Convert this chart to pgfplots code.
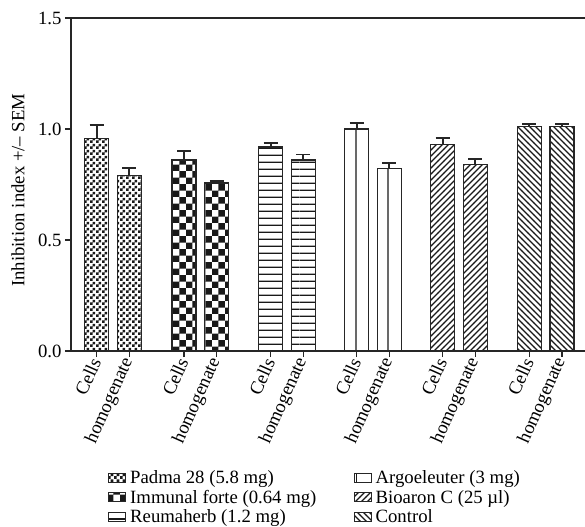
\documentclass[border=0pt]{standalone}
\usepackage{fontspec}
\setmainfont{Liberation Serif}
\usepackage{pgfplots}
\pgfplotsset{compat=1.18}
\usetikzlibrary{patterns}
\newcommand{\bigf}{\fontsize{18.8}{22}\selectfont}

% fine checkerboard
\pgfdeclarepatternformonly{finechk}{\pgfpointorigin}{\pgfqpoint{6bp}{6bp}}{\pgfqpoint{6bp}{6bp}}{
  \pgfpathrectangle{\pgfpointorigin}{\pgfqpoint{3bp}{3bp}}
  \pgfpathrectangle{\pgfqpoint{3bp}{3bp}}{\pgfqpoint{3bp}{3bp}}
  \pgfusepath{fill}}
% coarse checkerboard
\pgfdeclarepatternformonly{coarsechk}{\pgfpointorigin}{\pgfqpoint{13.4bp}{13.4bp}}{\pgfqpoint{13.4bp}{13.4bp}}{
  \pgfpathrectangle{\pgfpointorigin}{\pgfqpoint{6.7bp}{6.7bp}}
  \pgfpathrectangle{\pgfqpoint{6.7bp}{6.7bp}}{\pgfqpoint{6.7bp}{6.7bp}}
  \pgfusepath{fill}}
% horizontal lines
\pgfdeclarepatternformonly{hl}{\pgfpointorigin}{\pgfqpoint{100bp}{7.3bp}}{\pgfqpoint{100bp}{7.3bp}}{
  \pgfpathrectangle{\pgfqpoint{0bp}{0.15bp}}{\pgfqpoint{100bp}{1.3bp}}
  \pgfusepath{fill}}
% vertical lines
\pgfdeclarepatternformonly{vl}{\pgfpointorigin}{\pgfqpoint{16.3bp}{100bp}}{\pgfqpoint{16.3bp}{100bp}}{
  \pgfpathrectangle{\pgfqpoint{13.75bp}{0bp}}{\pgfqpoint{1.3bp}{100bp}}
  \pgfusepath{fill}}
% north east lines
\pgfdeclarepatternformonly{nel}{\pgfqpoint{-1bp}{-1bp}}{\pgfqpoint{7bp}{7bp}}{\pgfqpoint{6bp}{6bp}}{
  \pgfsetlinewidth{1.2bp}
  \pgfpathmoveto{\pgfqpoint{-0.1bp}{-0.1bp}}
  \pgfpathlineto{\pgfqpoint{6.1bp}{6.1bp}}
  \pgfusepath{stroke}}
% north west lines
\pgfdeclarepatternformonly{nwl}{\pgfqpoint{-1bp}{-1bp}}{\pgfqpoint{7bp}{7bp}}{\pgfqpoint{6bp}{6bp}}{
  \pgfsetlinewidth{1.2bp}
  \pgfpathmoveto{\pgfqpoint{-0.1bp}{6.1bp}}
  \pgfpathlineto{\pgfqpoint{6.1bp}{-0.1bp}}
  \pgfusepath{stroke}}

\begin{document}
\begin{tikzpicture}
\begin{axis}[
  at={(0,0)}, anchor=south west,
  scale only axis,
  width=519bp, height=333bp,
  xmin=71, xmax=590, ymin=0, ymax=1.5,
  ybar, bar width=24,
  /pgf/number format/assume math mode=true,
  tick label style={font=\bigf},
  label style={font=\bigf},
  axis line style={line width=1.3bp, black!85},
  tick style={line width=1.3bp, black!85},
  tick align=outside, tick pos=left,
  major tick length=6bp,
  ytick={0,0.5,1,1.5},
  yticklabel style={/pgf/number format/.cd, fixed, fixed zerofill, precision=1},
  xtick={96.7,129.3,184,216.7,270.7,303.3,356.7,389.3,442.7,475.3,529.3,562},
  xticklabels={Cells,homogenate,Cells,homogenate,Cells,homogenate,Cells,homogenate,Cells,homogenate,Cells,homogenate},
  xticklabel style={rotate=66, anchor=east, inner sep=2bp},
  ylabel={Inhibition index +/– SEM},
  ylabel style={at={(axis description cs:-0.102,0.483)}, anchor=center},
  legend columns=2,
  legend cell align=left,
  legend style={at={(rel axis cs:0.0713,-0.355)}, anchor=north west, draw=none,
    inner sep=0pt, row sep=2.5bp, font=\bigf,
    nodes={inner sep=1.2bp},
    /tikz/column 1/.style={column sep=3bp},
    /tikz/column 3/.style={column sep=3bp},
    /tikz/column 2/.style={column sep=36bp}},
  every axis plot post/.append style={
    bar shift=0pt, draw=black!85, line width=1.2bp, pattern color=black!90,
    legend image code/.code={\draw[##1, line width=0.8bp] (0bp,-4.5bp) rectangle (17bp,4.5bp);}},
  error bars/y dir=plus, error bars/y explicit,
  error bars/error bar style={line width=1.8bp, black!85, solid},
  error bars/error mark options={rotate=90, line width=1.8bp, mark size=7bp, black!85, solid},
]
% Padma 28
\addplot[pattern=finechk] coordinates {(96.7,0.958) +- (0,0.060) (129.3,0.790) +- (0,0.033)};
\addlegendentry{Padma 28 (5.8 mg)}
% Argoeleuter
\addplot[pattern=vl] coordinates {(356.7,1.000) +- (0,0.026) (389.3,0.821) +- (0,0.027)};
\addlegendentry{Argoeleuter (3 mg)}
% Immunal forte
\addplot[pattern=coarsechk] coordinates {(184,0.860) +- (0,0.042) (216.7,0.757) +- (0,0.008)};
\addlegendentry{Immunal forte (0.64 mg)}
% Bioaron C
\addplot[pattern=nel] coordinates {(442.7,0.929) +- (0,0.030) (475.3,0.841) +- (0,0.023)};
\addlegendentry{Bioaron C (25 µl)}
% Reumaherb
\addplot[pattern=hl] coordinates {(270.7,0.919) +- (0,0.018) (303.3,0.860) +- (0,0.025)};
\addlegendentry{Reumaherb (1.2 mg)}
% Control
\addplot[pattern=nwl] coordinates {(529.3,1.010) +- (0,0.012) (562,1.010) +- (0,0.012)};
\addlegendentry{Control}
\end{axis}
\pgfresetboundingbox
\useasboundingbox (-71bp,-176bp) rectangle (514bp,351bp);
\end{tikzpicture}
\end{document}
